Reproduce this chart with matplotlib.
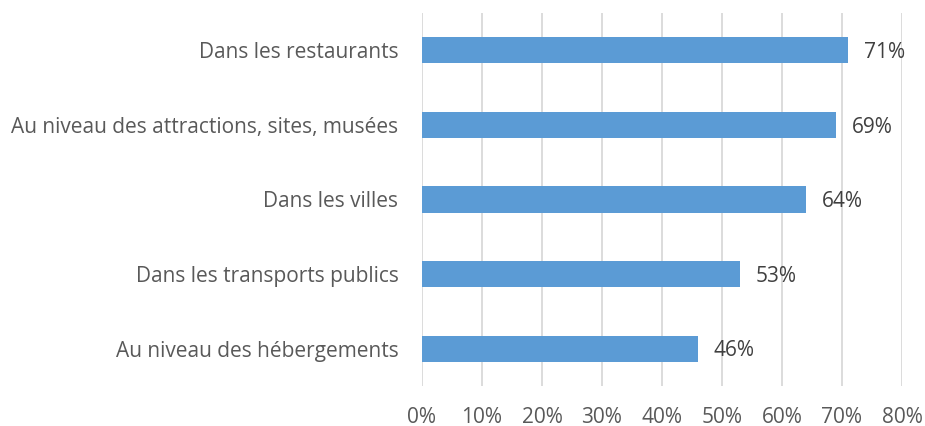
import matplotlib.pyplot as plt
from matplotlib.ticker import FuncFormatter

# data (top to bottom as shown)
categories = [
    "Dans les restaurants",
    "Au niveau des attractions, sites, musées",
    "Dans les villes",
    "Dans les transports publics",
    "Au niveau des hébergements",
]
values = [71, 69, 64, 53, 46]

BAR = '#5B9BD5'
GRID = '#D9D9D9'
TXT = '#595959'

plt.rcParams['font.family'] = ['Open Sans', 'DejaVu Sans']

fig = plt.figure(figsize=(9.25, 4.26), dpi=100)
ax = fig.add_axes([422 / 925, 40 / 426, 480 / 925, 373 / 426])

ypos = list(range(len(categories)))[::-1]
ax.barh(ypos, values, height=0.35, color=BAR, zorder=3)

for y, v in zip(ypos, values):
    ax.text(v + 2.6, y - 0.03, f"{v}%", va='center', ha='left', fontsize=15, color='#404040')

ax.set_xlim(0, 80)
ax.set_ylim(-0.5, len(categories) - 0.5)
ax.set_xticks(range(0, 81, 10))
ax.xaxis.set_major_formatter(FuncFormatter(lambda x, p: f"{int(x)}%"))
ax.set_yticks(ypos)
ax.set_yticklabels(categories)
ax.grid(axis='x', color=GRID, linewidth=1.3, zorder=0)
for s in ax.spines.values():
    s.set_visible(False)
ax.tick_params(axis='both', length=0, labelsize=15, colors=TXT)
ax.tick_params(axis='x', pad=15)
ax.tick_params(axis='y', pad=17)

fig.savefig('out.png', dpi=100)
